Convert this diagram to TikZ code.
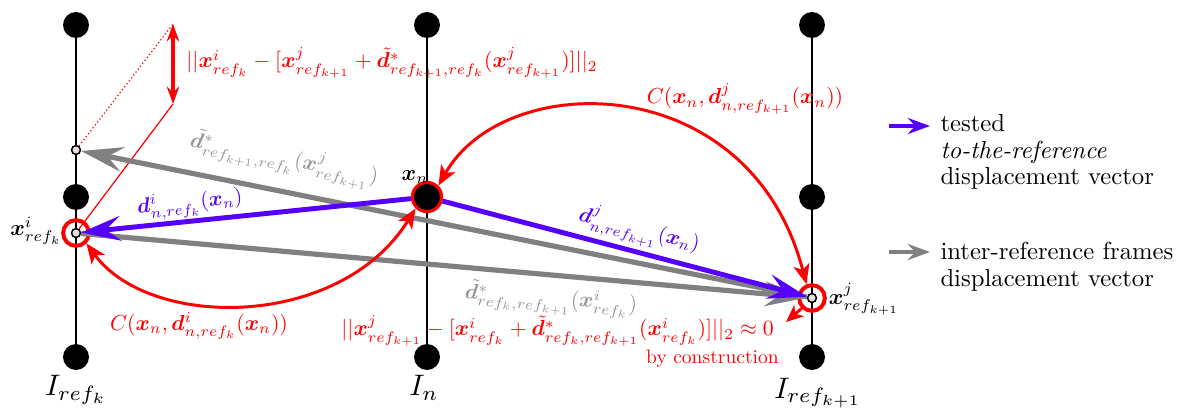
\documentclass[tikz,border=0pt]{standalone}
\usepackage{bm}
\usetikzlibrary{arrows.meta}
\definecolor{vblue}{RGB}{85,0,255}
\definecolor{lgray}{RGB}{128,128,128}
\definecolor{tgray}{RGB}{150,150,150}
\tikzset{
  dot/.style={circle,fill=black,minimum size=10.5pt,inner sep=0pt},
  ring/.style={circle,draw=red,line width=1.6pt,minimum size=10.4pt,inner sep=0pt},
  smallpt/.style={circle,draw=black,fill=black!12,line width=0.6pt,minimum size=3.6pt,inner sep=0pt},
  axisline/.style={line width=1pt},
  grayarrow/.style={draw=lgray,line width=2.1pt,-{Stealth[length=17pt,width=10pt,inset=6pt]}},
  bluearrow/.style={draw=vblue,line width=2pt,-{Stealth[length=16pt,width=10pt,inset=6pt]}},
  redcurve/.style={draw=red,line width=1.2pt,{Stealth[length=8pt,width=6.5pt,inset=2pt]}-{Stealth[length=8pt,width=6.5pt,inset=2pt]}},
  legarrow/.style={line width=1.6pt,-{Stealth[length=9pt,width=6.5pt,inset=3pt]}},
  normlab/.style={text=red,scale=0.88,transform shape},
  clab/.style={text=red,scale=0.88,transform shape},
  graylab/.style={text=tgray,scale=0.87,transform shape},
  bluelab/.style={text=vblue,scale=0.86,transform shape},
  ptlab/.style={scale=0.9,transform shape},
  framelab/.style={scale=1.2,transform shape},
  legtext/.style={anchor=north west,align=left,inner sep=0pt,font=\fontsize{10}{10.8}\selectfont},
}
\begin{document}
\begin{tikzpicture}[x=0.405pt,y=-0.405pt]
\useasboundingbox (0,0) rectangle (1177,407);
% ---------- points ----------
\node[dot] (L1) at (76,25) {};
\node[dot] (L2) at (76,197) {};
\node[dot] (L3) at (76,357) {};
\node[dot] (M1) at (427,25) {};
\node[dot] (M3) at (427,357) {};
\node[dot] (R1) at (812,25) {};
\node[dot] (R2) at (812,197) {};
\node[dot] (R3) at (812,357) {};
\node[smallpt] (q) at (76,150) {};
\node[smallpt] (xi) at (76,233) {};
\node[smallpt] (xj) at (812,298) {};
\node[circle,fill=black,draw=red,line width=1.3pt,minimum size=11.8pt,inner sep=0pt] (xn) at (427,197) {};
% ---------- frame lines ----------
\draw[axisline] (L1) -- (q);
\draw[axisline] (q) -- (L2);
\draw[axisline] (L2) -- (xi);
\draw[axisline] (xi) -- (L3);
\draw[axisline] (M1) -- (xn);
\draw[axisline] (xn) -- (M3);
\draw[axisline] (R1) -- (R2);
\draw[axisline] (R2) -- (xj);
\draw[axisline] (xj) -- (R3);
\node[ring] (ci) at (xi) {};
\node[ring] (cj) at (xj) {};
% ---------- parallelogram ----------
\coordinate (ta) at (173,24);
\coordinate (tb) at (173,104);
\draw[red,densely dotted,line width=0.5pt] (q) -- (ta);
\draw[red,line width=0.5pt] (tb) -- (xi);
\draw[red,line width=1.6pt,{Stealth[length=7pt,width=5pt]}-{Stealth[length=7pt,width=5pt]}] (ta) -- (tb);
% ---------- gray arrows ----------
\draw[grayarrow] (xj) -- (q);
\draw[grayarrow] (xi) -- (xj);
% ---------- blue arrows ----------
\draw[bluearrow] (xn) -- (xi);
\draw[bluearrow] (xn) -- (xj);
% ---------- red curves ----------
\draw[redcurve] (ci.-45) .. controls (150,330) and (340,330) .. (xn.-135);
\draw[redcurve] (xn.45) .. controls (505,68) and (750,68) .. (cj.112);
\coordinate (e) at (786,322);
\draw[red,line width=1.2pt,-{Stealth[length=7pt,width=6pt,inset=2pt]}] (cj.-135) -- (e);
% ---------- labels ----------
\node[normlab,anchor=west,inner sep=0pt] (lab1) at (186,63) {$||\bm{x}^i_{ref_k} - [\bm{x}^j_{ref_{k+1}} + \tilde{\bm{d}}^*_{ref_{k+1},ref_k}(\bm{x}^j_{ref_{k+1}})]||_2$};
\node[normlab,anchor=west,inner sep=0pt] (lab2) at (341,331) {$||\bm{x}^j_{ref_{k+1}} - [\bm{x}^i_{ref_k} + \tilde{\bm{d}}^*_{ref_k,ref_{k+1}}(\bm{x}^i_{ref_k})]||_2 \approx 0$};
\node[text=red,anchor=east,inner sep=0pt,scale=0.79,transform shape] (lab3) at (779,359) {by construction};
\node[clab] (lab4) at (745,99) {$C(\bm{x}_n, \bm{d}^j_{n,ref_{k+1}}(\bm{x}_n))$};
\node[clab] (lab5) at (199,326) {$C(\bm{x}_n, \bm{d}^i_{n,ref_k}(\bm{x}_n))$};
\node[graylab,rotate=-11] (lab6) at (284,160) {$\tilde{\bm{d}}^*_{ref_{k+1},ref_k}(\bm{x}^j_{ref_{k+1}})$};
\node[graylab,rotate=-4] (lab7) at (551,300) {$\tilde{\bm{d}}^*_{ref_k,ref_{k+1}}(\bm{x}^i_{ref_k})$};
\node[bluelab,rotate=6] (lab8) at (190,204) {$\bm{d}^i_{n,ref_k}(\bm{x}_n)$};
\node[bluelab,rotate=-14] (lab9) at (639,231) {$\bm{d}^j_{n,ref_{k+1}}(\bm{x}_n)$};
\node[ptlab] (lxn) at (415,177) {$\bm{x}_n$};
\node[ptlab] (lxi) at (36,231) {$\bm{x}^i_{ref_k}$};
\node[ptlab] (lxj) at (864,299) {$\bm{x}^j_{ref_{k+1}}$};
\node[framelab] (IL) at (76,390) {$I_{ref_k}$};
\node[framelab] (IM) at (424,388) {$I_n$};
\node[framelab] (IR) at (818,393) {$I_{ref_{k+1}}$};
% ---------- legend ----------
\coordinate (la1) at (889,126);
\coordinate (la2) at (930,126);
\coordinate (lb1) at (889,252);
\coordinate (lb2) at (930,252);
\draw[legarrow,vblue] (la1) -- (la2);
\draw[legarrow,lgray] (lb1) -- (lb2);
\node[legtext] (leg1) at (940,114) {tested\\\textit{to-the-reference}\\displacement vector};
\node[legtext] (leg2) at (940,242) {inter-reference frames\\displacement vector};
\end{tikzpicture}
\end{document}
